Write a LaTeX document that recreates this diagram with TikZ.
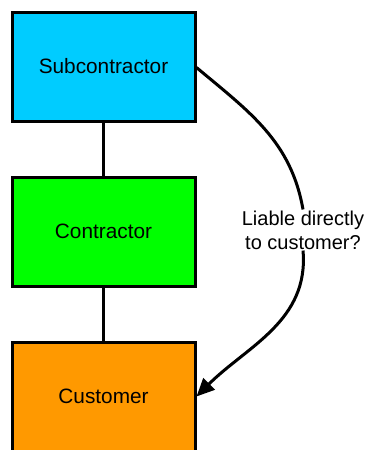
\documentclass[tikz,border=0pt]{standalone}
\usepackage{fontspec}
\setmainfont{Liberation Sans}
\usetikzlibrary{arrows.meta}
\definecolor{subc}{HTML}{00CCFF}
\definecolor{conc}{HTML}{00FF00}
\definecolor{cusc}{HTML}{FF9900}
\tikzset{
  party/.style={draw=black, line width=3pt, minimum width=183pt, minimum height=109pt, inner sep=0pt, font=\fontsize{20.8}{24}\selectfont},
  link/.style={line width=3pt},
}
\begin{document}
\begin{tikzpicture}[x=1pt,y=-1pt]
\useasboundingbox (0,0) rectangle (369,450);
\clip (0,0) rectangle (369,450);
\node[party, fill=subc] (sub) at (103.5,66.5) {Subcontractor};
\node[party, fill=conc] (con) at (103.5,231.5) {Contractor};
\node[party, fill=cusc] (cus) at (103.5,396.5) {Customer};
\draw[link] (sub.south) -- (con.north);
\draw[link] (con.south) -- (cus.north);
\node[align=center, inner sep=1pt, font=\fontsize{20}{24}\selectfont] (q) at (303,230) {Liable directly\\to customer?};
\draw[link] ([yshift=-1pt]sub.east) to[out=-40,in=100] (q.north);
\draw[link, -{Triangle[length=18pt,width=16pt]}] (q.south) to[out=-85,in=45] (cus.east);
\end{tikzpicture}
\end{document}
